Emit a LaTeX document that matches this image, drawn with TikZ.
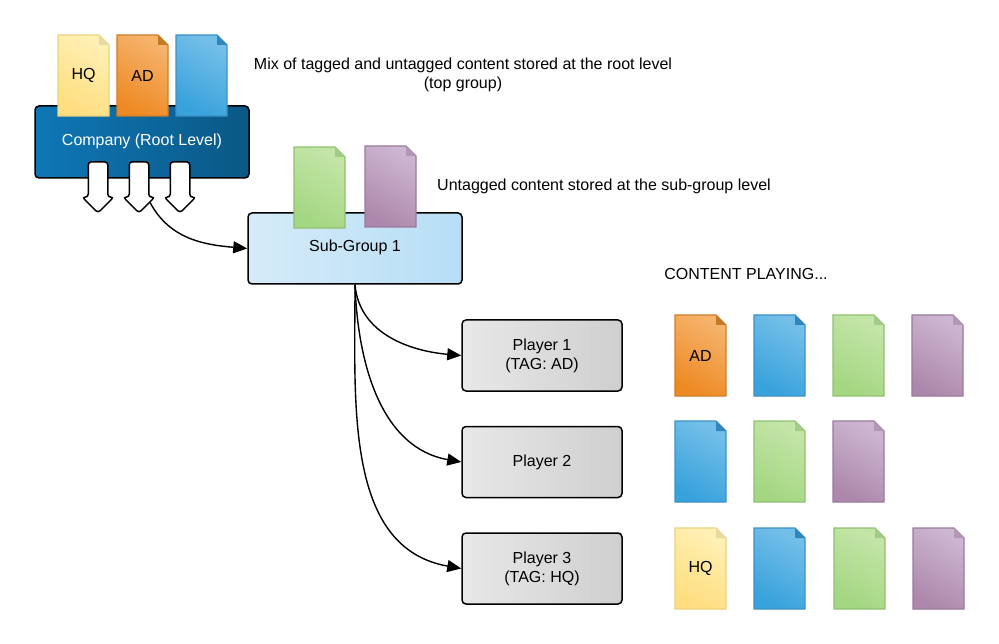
\documentclass[tikz,border=0pt]{standalone}
\usepackage{fontspec}
\setmainfont{Liberation Sans}
\usepackage{tikz}
\usetikzlibrary{arrows.meta, shapes.arrows}

\definecolor{yellowlight}{HTML}{FFF0B4}
\definecolor{yellowdark}{HTML}{FEDE80}
\definecolor{yellowedge}{HTML}{EBD27C}
\definecolor{yellowfold}{HTML}{E8D9A0}
\definecolor{orangelight}{HTML}{F6B36C}
\definecolor{orangedark}{HTML}{EE8A24}
\definecolor{orangeedge}{HTML}{D07E28}
\definecolor{orangefold}{HTML}{C47A24}
\definecolor{bluelight}{HTML}{74BFE9}
\definecolor{bluedark}{HTML}{38A2DC}
\definecolor{blueedge}{HTML}{3C92C6}
\definecolor{bluefold}{HTML}{2F86BA}
\definecolor{greenlight}{HTML}{C4E5A8}
\definecolor{greendark}{HTML}{A4D782}
\definecolor{greenedge}{HTML}{90C070}
\definecolor{greenfold}{HTML}{A2CB88}
\definecolor{purplelight}{HTML}{CDB6D1}
\definecolor{purpledark}{HTML}{AD88AC}
\definecolor{purpleedge}{HTML}{997B9C}
\definecolor{purplefold}{HTML}{B298B5}
\definecolor{companyleft}{HTML}{0F77B6}
\definecolor{companyright}{HTML}{0A5885}
\definecolor{subleft}{HTML}{D6EBF9}
\definecolor{subright}{HTML}{B6DEF5}
\definecolor{playerleft}{HTML}{E8E8E8}
\definecolor{playerright}{HTML}{CFCFCF}

\tikzset{
  labeltext/.style={font=\fontsize{16}{19}\selectfont, align=center, inner sep=0pt},
  groupbox/.style={draw=black, line width=1.5pt, rounded corners=4pt, inner sep=0pt,
    minimum width=#1, labeltext},
  playerbox/.style={groupbox=160pt, minimum height=71pt, left color=playerleft, right color=playerright},
  downarrow/.style={single arrow, draw=black, fill=white, line width=1.5pt, rotate=-90,
    rounded corners=3pt, inner sep=9pt, single arrow head extend=6pt,
    single arrow tip angle=90, minimum height=51pt},
  link/.style={line width=1.4pt, -{Triangle[length=14pt, width=12pt]}}
}

% name, left, top, colour, text
\newcommand{\docpage}[5]{
  \draw [line width=1.2pt, draw=#4edge, top color=#4light, bottom color=#4dark, shading angle=-30]
    (#2,#3) -- ++(41,0) -- ++(10,10) -- ++(0,71) -- ++(-51,0) -- cycle;
  \fill [#4fold] (#2,#3) ++(41,0) -- ++(10,10) -- ++(-10,0) -- cycle;
  \node [labeltext] (#1) at (#2+25.5,#3+40.5) {#5};
}

\begin{document}
\begin{tikzpicture}[x=1pt, y=-1pt]
\useasboundingbox (0,0) rectangle (999,644);

% Company
\node [groupbox=214pt, minimum height=72pt, left color=companyleft, right color=companyright] (company) at (142,142) {};
\node [labeltext, text=white] (companytext) at (142,141.5) {Company (Root Level)};
\docpage{hqroot}{58}{35}{yellow}{HQ}
\docpage{adroot}{117}{35}{orange}{AD}
\docpage{blueroot}{176}{35}{blue}{}
\node [downarrow] (arrowone) at (98,182.5) {};
\node [downarrow] (arrowtwo) at (139,182.5) {};
\node [downarrow] (arrowthree) at (180,182.5) {};

% Sub-group
\node [groupbox=214pt, minimum height=71pt, left color=subleft, right color=subright] (subgroup) at (355,248.5) {};
\node [labeltext] (subgrouptext) at (355,247) {Sub-Group 1};
\docpage{greensub}{294}{147}{green}{}
\docpage{purplesub}{365}{146}{purple}{}

% Players
\node [playerbox] (playerone) at (542,355.5) {Player 1\\(TAG: AD)};
\node [playerbox] (playertwo) at (542,462) {Player 2};
\node [playerbox] (playerthree) at (542,568.5) {Player 3\\(TAG: HQ)};

% Links
\draw [link] (arrowtwo.29) to [out=-62, in=175] (subgroup.west);
\draw [link] (subgroup.south) to [out=-85, in=175] (playerone.west);
\draw [link] (subgroup.south) to [out=-88, in=170] (playertwo.west);
\draw [link] (subgroup.south) to [out=-90, in=170] (playerthree.west);

% Content playing
\docpage{adone}{675}{315}{orange}{AD}
\docpage{blueone}{754}{315}{blue}{}
\docpage{greenone}{833}{315}{green}{}
\docpage{purpleone}{912}{315}{purple}{}
\docpage{bluetwo}{675}{421}{blue}{}
\docpage{greentwo}{754}{421}{green}{}
\docpage{purpletwo}{833}{421}{purple}{}
\docpage{hqthree}{675}{528}{yellow}{HQ}
\docpage{bluethree}{754}{528}{blue}{}
\docpage{greenthree}{834}{528}{green}{}
\docpage{purplethree}{913}{528}{purple}{}

% Labels
\node [labeltext] (mixnote) at (463,74.5) {Mix of tagged and untagged content stored at the root level\\(top group)};
\node [labeltext] (untaggednote) at (604,186) {Untagged content stored at the sub-group level};
\node [labeltext] (playingnote) at (746,273.5) {CONTENT PLAYING...};

\end{tikzpicture}
\end{document}
